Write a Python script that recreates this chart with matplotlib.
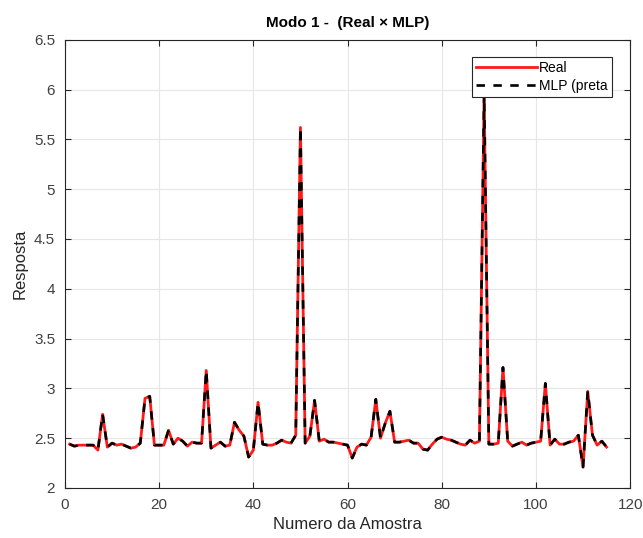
import numpy as np
import matplotlib.pyplot as plt

plt.rcParams['font.family'] = ['Liberation Sans', 'DejaVu Sans']

# valores (amostras 1..115)
real = [2.44, 2.42, 2.43, 2.43, 2.43, 2.43, 2.38, 2.74, 2.41, 2.45,
        2.43, 2.44, 2.42, 2.40, 2.41, 2.45, 2.90, 2.92, 2.43, 2.43,
        2.43, 2.58, 2.44, 2.50, 2.47, 2.42, 2.46, 2.45, 2.45, 3.18,
        2.40, 2.43, 2.46, 2.42, 2.43, 2.66, 2.58, 2.52, 2.31, 2.38,
        2.86, 2.44, 2.43, 2.43, 2.45, 2.48, 2.46, 2.45, 2.53, 5.62,
        2.45, 2.52, 2.88, 2.47, 2.49, 2.46, 2.46, 2.45, 2.44, 2.43,
        2.30, 2.41, 2.44, 2.43, 2.51, 2.89, 2.50, 2.65, 2.77, 2.46,
        2.46, 2.47, 2.48, 2.45, 2.45, 2.39, 2.38, 2.44, 2.49, 2.51,
        2.49, 2.48, 2.46, 2.44, 2.43, 2.48, 2.45, 2.47, 5.95, 2.44,
        2.44, 2.45, 3.21, 2.47, 2.42, 2.44, 2.46, 2.43, 2.45, 2.46,
        2.47, 3.05, 2.43, 2.49, 2.44, 2.44, 2.46, 2.47, 2.53, 2.21,
        2.97, 2.53, 2.43, 2.47, 2.41]
# a saida da MLP fica sobreposta a curva real
mlp = list(real)
amostras = np.arange(1, len(real) + 1)

fig = plt.figure(figsize=(6.43, 5.38), dpi=100)
ax = fig.add_axes([0.101, 0.093, 0.879, 0.833])

ax.plot(amostras, real, color='#ff1a1a', linewidth=2.0, label='Real')
ax.plot(amostras, mlp, color='black', linewidth=1.9, linestyle=(0, (3.2, 3.2)),
        label='MLP (preta')

ax.set_xlim(0, 120)
ax.set_ylim(2, 6.5)
ax.set_xticks(np.arange(0, 121, 20))
ax.set_yticks(np.arange(2, 6.51, 0.5))
ax.set_yticklabels(['2', '2.5', '3', '3.5', '4', '4.5', '5', '5.5', '6', '6.5'])
ax.grid(True, color='#e6e6e6', linewidth=0.8)
ax.set_axisbelow(True)
ax.tick_params(direction='in', top=True, right=True, length=4, pad=7,
               labelsize=11, colors='#262626', labelcolor='#404040')
for s in ax.spines.values():
    s.set_color('#262626')
    s.set_linewidth(0.8)

ax.set_xlabel('Numero da Amostra', fontsize=12, color='#262626', labelpad=4)
ax.set_ylabel('Resposta', fontsize=12, color='#262626', labelpad=5)
ax.set_title('Modo 1 -  (Real \u00d7 MLP)', fontsize=11, fontweight='bold', pad=9)

leg = ax.legend(loc='upper right', bbox_to_anchor=(0.972, 0.968), fontsize=10,
                handlelength=4.4, handletextpad=0.1, borderpad=0.3,
                labelspacing=0.3, fancybox=False, framealpha=1,
                borderaxespad=0.2)
leg.get_frame().set_edgecolor('#262626')
leg.get_frame().set_linewidth(0.8)

fig.savefig('out.png', dpi=100, facecolor='white')
